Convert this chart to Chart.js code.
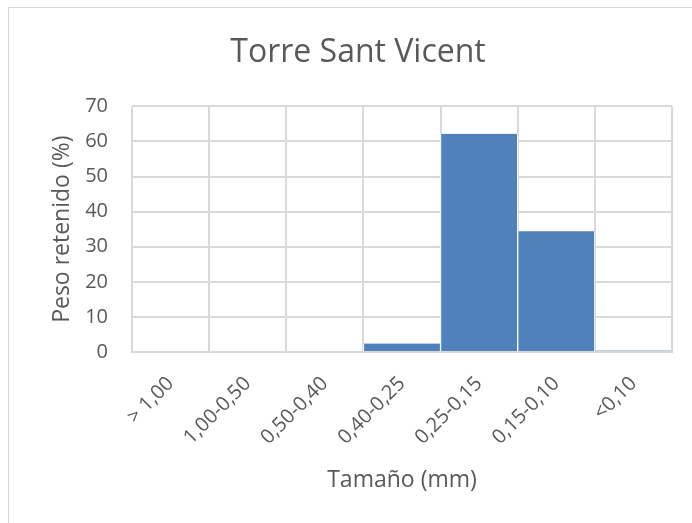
<!DOCTYPE html>
<html>
<head>
<meta charset="utf-8">
<script src="https://cdn.jsdelivr.net/npm/chart.js@4"></script>
<style>
  html, body { margin: 0; padding: 0; background: #fff; overflow: hidden; }
  #frame {
    position: absolute; left: 8px; top: 7px;
    width: 710px; height: 530px;
    border: 1px solid #d9d9d9;
  }
  #wrap { position: absolute; left: 0; top: 0; width: 700px; height: 516px; }
</style>
</head>
<body>
<div id="frame">
  <div id="wrap"><canvas id="sizeChart"></canvas></div>
</div>
<script>
const categories = ['> 1,00', '1,00-0,50', '0,50-0,40', '0,40-0,25', '0,25-0,15', '0,15-0,10', '<0,10'];
const pesoRetenido = [0, 0, 0, 2.4, 62.2, 34.4, 0.4];
const yTicks = [0, 10, 20, 30, 40, 50, 60, 70];

const textColor = '#595959';
const gridColor = '#d9d9d9';
const fontFamily = '"Open Sans", "Noto Sans", sans-serif';

const ctx = document.getElementById('sizeChart').getContext('2d');
const myChart = new Chart(ctx, {
    type: 'bar',
    data: {
        labels: categories,
        datasets: [{
            label: 'Peso retenido (%)',
            data: pesoRetenido,
            backgroundColor: '#4f81bd',
            borderColor: '#ffffff',
            borderWidth: { left: 1, right: 1, top: 0, bottom: 0 },
            categoryPercentage: 1.0,
            barPercentage: 1.0
        }]
    },
    options: {
        responsive: true,
        maintainAspectRatio: false,
        animation: false,
        layout: { padding: { left: 35, right: 37, top: 0, bottom: 0 } },
        plugins: {
            legend: { display: false },
            tooltip: { enabled: false },
            title: {
                display: true,
                text: 'Torre Sant Vicent',
                color: textColor,
                font: { family: fontFamily, size: 32, weight: 'normal' },
                padding: { top: 26, bottom: 34 }
            }
        },
        scales: {
            x: {
                afterFit: axis => { axis.height = 172; },
                grid: { color: gridColor, lineWidth: 2, drawTicks: false, offset: true },
                border: { color: gridColor, width: 2 },
                ticks: {
                    color: textColor,
                    font: { family: fontFamily, size: 20 },
                    maxRotation: 45,
                    minRotation: 45,
                    padding: 20
                },
                title: {
                    display: true,
                    text: 'Tamaño (mm)',
                    color: textColor,
                    font: { family: fontFamily, size: 23 },
                    padding: { top: 4, bottom: 30 }
                }
            },
            y: {
                min: 0,
                max: 70,
                afterBuildTicks: axis => { axis.ticks = yTicks.map(v => ({ value: v })); },
                afterFit: axis => { axis.width = 88; },
                grid: { color: gridColor, lineWidth: 2, drawTicks: false },
                border: { display: false },
                ticks: {
                    color: textColor,
                    font: { family: fontFamily, size: 20 },
                    padding: 24
                },
                title: {
                    display: true,
                    text: 'Peso retenido (%)',
                    color: textColor,
                    font: { family: fontFamily, size: 23 },
                    padding: { top: 5, bottom: 2 }
                }
            }
        }
    }
});
</script>
</body>
</html>
